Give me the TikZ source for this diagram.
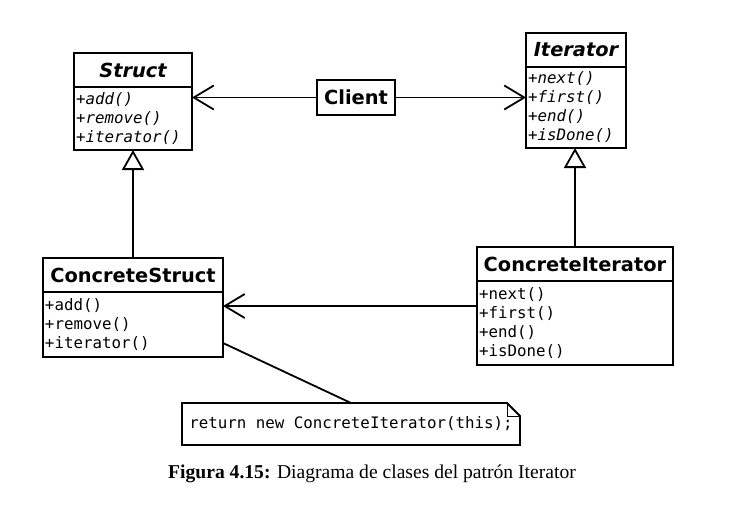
\documentclass[tikz,border=0pt]{standalone}
\usepackage{fontspec}
\setmainfont{Liberation Serif}
\setsansfont{DejaVu Sans}
\setmonofont{DejaVu Sans Mono}
\usepackage{tikz}
\usetikzlibrary{arrows.meta}
\usetikzlibrary{positioning}
\tikzset{
	class head/.style={draw,line width=1.8pt,outer sep=0pt,minimum height=34pt,inner sep=0pt,
		font=\fontsize{19.4}{23}\selectfont\sffamily\bfseries},
	class body/.style={draw,line width=1.8pt,outer sep=0pt,align=left,inner xsep=2pt,inner ysep=3pt,
		font=\fontsize{15.8}{19}\selectfont\ttfamily},
	abstract/.style={font=\fontsize{19.4}{23}\selectfont\sffamily\bfseries\itshape},
	abstract body/.style={font=\fontsize{15.8}{19}\selectfont\ttfamily\itshape},
	note/.style={minimum width=338pt,minimum height=42pt,inner sep=0pt,outer sep=0pt,
		font=\fontsize{15.8}{19}\selectfont\ttfamily},
	assoc/.style={-{Straight Barb[length=20pt,width=24pt]}},
	gener/.style={-{Triangle[open,length=20pt,width=22pt]}}
}

\begin{document}
\begin{tikzpicture}[x=1pt,y=-1pt,line width=1.8pt]
\useasboundingbox (0,0) rectangle (740,506);
% abstract classes
\node [class head,abstract,minimum width=118pt] (struct) at (133,70) {Struct};
\node [class body,abstract body,below=0pt of struct,text width=114pt,minimum height=63pt] (structb)
	{+add()\\+remove()\\+iterator()};
\node [class head,abstract,minimum width=100pt] (iter) at (576,50) {Iterator};
\node [class body,abstract body,below=0pt of iter,text width=96pt,minimum height=81pt] (iterb)
	{+next()\\+first()\\+end()\\+isDone()};
% concrete classes
\node [class head,minimum width=180pt] (cstruct) at (133,275) {ConcreteStruct};
\node [class body,below=0pt of cstruct,text width=176pt,minimum height=65pt] (cstructb)
	{+add()\\+remove()\\+iterator()};
\node [class head,minimum width=196pt] (citer) at (575,264) {ConcreteIterator};
\node [class body,below=0pt of citer,text width=192pt,minimum height=84pt] (citerb)
	{+next()\\+first()\\+end()\\+isDone()};
\node [class head,minimum width=78pt,minimum height=35pt] (client) at (356,97.5) {Client};
% note
\node [note] (note) at (351,424) {\raisebox{-3pt}{return new ConcreteIterator(this);}};
\draw (note.north west) -- ([xshift=-13pt]note.north east) -- ([yshift=-13pt]note.north east)
	-- (note.south east) -- (note.south west) -- cycle;
\draw [line width=1pt] ([xshift=-13pt]note.north east) |- ([yshift=-13pt]note.north east);
% relations
\draw [assoc] (client.west) -- (client.west -| structb.east);
\draw [assoc] (client.east) -- (client.east -| iterb.west);
\draw [gener] (cstruct.north) -- (structb.south);
\draw [gener] (citer.north) -- (citer.north |- iterb.south);
\coordinate (cit) at ([yshift=17pt]citerb.west);
\draw [assoc] (cit) -- (cit -| cstructb.east);
\draw ([yshift=14pt]cstructb.south east) -- (note.north);
% caption
\node [font=\fontsize{19.6}{23}\selectfont] (caption) at (372,474) {\textbf{Figura 4.15:} Diagrama de clases del patrón Iterator};
\end{tikzpicture}
\end{document}
